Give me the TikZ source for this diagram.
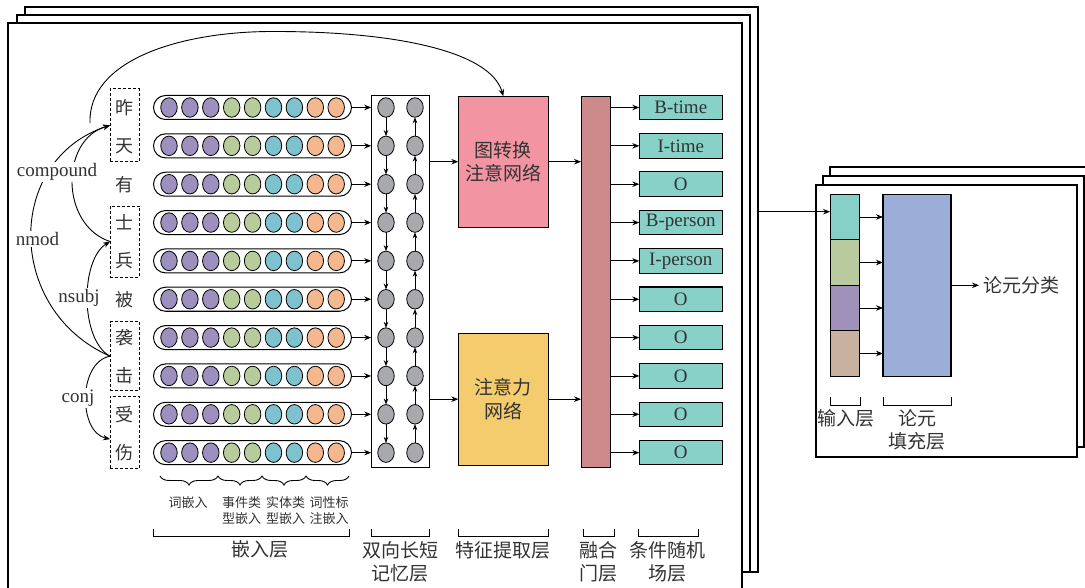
\documentclass[tikz,border=0pt]{standalone}
\usepackage{fontspec}
\setmainfont{Liberation Serif}
\newfontfamily\cjk{Noto Sans CJK SC}
\usetikzlibrary{arrows.meta,decorations.pathreplacing,shapes.geometric,calc}
\definecolor{txt}{HTML}{333333}
\definecolor{ePu}{HTML}{9D8FBE}
\definecolor{eGr}{HTML}{B7CB9B}
\definecolor{eCy}{HTML}{7DC2CE}
\definecolor{eOr}{HTML}{F4B78E}
\definecolor{gCir}{HTML}{A8A9AD}
\definecolor{pinkBox}{HTML}{F394A2}
\definecolor{yelBox}{HTML}{F4CC6E}
\definecolor{fuseBox}{HTML}{CC8A8A}
\definecolor{crfBox}{HTML}{87D1C9}
\definecolor{inTe}{HTML}{86D0C8}
\definecolor{inGr}{HTML}{B8CA9E}
\definecolor{inPu}{HTML}{9F91B9}
\definecolor{inTa}{HTML}{C9B19F}
\definecolor{fillBox}{HTML}{9BAED8}
\newcommand\fsz[2]{\fontsize{#1}{#2}\selectfont}
\begin{document}
\begin{tikzpicture}[x=1pt,y=-1pt,
  every node/.style={inner sep=0pt, outer sep=0pt, text=txt},
  arr/.style={-{Stealth[length=7pt,width=5.5pt]}, line width=0.9pt},
  sarr/.style={-{Stealth[length=6pt,width=4.5pt]}, line width=0.8pt},
  frame/.style={draw, fill=white, line width=1.1pt},
  embrow/.style={draw, line width=1pt, rounded corners=12pt, minimum width=198pt, minimum height=24pt},
  dot/.style={draw, ellipse, line width=0.8pt, minimum width=16.5pt, minimum height=19.5pt},
  word/.style={font=\cjk\fsz{18}{20}},
  dbox/.style={draw, line width=0.9pt, dash pattern=on 3pt off 2pt, minimum width=29.3pt},
  box/.style={draw, line width=1.1pt},
  crf/.style={box, fill=crfBox, minimum width=83pt, minimum height=24.5pt, font=\fsz{19}{20}},
  big/.style={font=\cjk\fsz{19}{23.5}, align=center},
  small/.style={font=\cjk\fsz{13}{16}, align=center},
  rel/.style={fill=white, inner sep=1.5pt, font=\fsz{19}{20}},
  brk/.style={line width=0.9pt},
  brc/.style={line width=0.9pt, decorate, decoration={brace, mirror, amplitude=9pt}}
]
\useasboundingbox (0,0) rectangle (1085,588);
% ---- stacked frames (main) ----
\draw[frame] (25,7) rectangle (758,572);
\draw[frame] (17,15) rectangle (750,572);
\draw[frame] (8,23) rectangle (742,600);
% ---- stacked frames (right) ----
\draw[frame] (830,167) rectangle (1095,438);
\draw[frame] (823,176) rectangle (1084,447);
\draw[frame] (816,185) rectangle (1077,457);

% ---- BiLSTM box ----
\node[box] (bl) at (400.2,281.8) [minimum width=58pt, minimum height=372pt] {};
% ---- rows ----
\foreach \w [count=\i from 0] in {昨,天,有,士,兵,被,袭,击,受,伤}{
  \pgfmathsetmacro\yy{107.5+38.35*\i}
  \node[word] (w\i) at (124.7,\yy) {\w};
  \node[embrow] (e\i) at (252.5,\yy) {};
  \foreach \c [count=\k from 0] in {ePu,ePu,ePu,eGr,eGr,eCy,eCy,eOr,eOr}{
    \node[dot, fill=\c] (d\i-\k) at (169+20.9*\k,\yy) {};
  }
  \node[dot, fill=gCir] (l\i) at (386,\yy) {};
  \node[dot, fill=gCir] (r\i) at (415,\yy) {};
  \draw[arr] (e\i.east) -- (e\i.east -| bl.west);
}
\foreach \i in {0,...,8}{
  \pgfmathtruncatemacro\j{\i+1}
  \draw[sarr] (l\i) -- (l\j);
  \draw[sarr] (r\j) -- (r\i);
}
% ---- dashed word groups ----
\node[dbox, minimum height=72.7pt] (b1) at (124.7,125.3) {};
\node[dbox, minimum height=71pt] (b2) at (124.7,241.5) {};
\node[dbox, minimum height=69pt] (b3) at (124.7,356.2) {};
\node[dbox, minimum height=72.3pt] (b4) at (124.7,432.1) {};
\coordinate (b4in) at ($(b4.west)+(0,7)$);
% ---- dependency arcs ----
\draw[arr] (b2.west) .. controls (60,225) and (60,140) .. (b1.west);
\draw[arr] (b3.west) .. controls (5,310) and (5,160) .. (b1.west);
\draw[arr] (b3.west) .. controls (80,340) and (80,260) .. (b2.west);
\draw[arr] (b3.west) .. controls (78,362) and (78,432) .. (b4in);
\node[rel] (lc) at (57,172) {compound};
\node[rel] (ln) at (37.5,239) {nmod};
\node[rel] (ls) at (79,298) {nsubj};
\node[rel] (lj) at (78,398) {conj};

% ---- feature extraction ----
\node[box, fill=pinkBox, minimum width=90pt, minimum height=131pt, big] (gat) at (503.3,161.7) {图转换\\注意网络};
\node[box, fill=yelBox, minimum width=90pt, minimum height=131.7pt, big] (att) at (503.3,399.2) {注意力\\网络};
\draw[arr] (bl.east |- gat) -- (gat.west);
\draw[arr] (bl.east |- att) -- (att.west);
\coordinate (tstart) at (90,123);
\draw[arr] (tstart) .. controls (88,60) and (180,32) .. (270,31.5) .. controls (390,31) and (490,50) .. (gat.north);
% ---- fusion ----
\node[box, fill=fuseBox, minimum width=29.3pt, minimum height=371pt] (fu) at (595.7,282) {};
\draw[arr] (gat.east) -- (gat.east -| fu.west);
\draw[arr] (att.east) -- (att.east -| fu.west);
% ---- CRF ----
\foreach \t [count=\i from 0] in {B-time,I-time,O,B-person,I-person,O,O,O,O,O}{
  \pgfmathsetmacro\yy{107.5+38.35*\i}
  \node[crf] (c\i) at (680.8,\yy) {\t};
  \draw[arr] (c\i.west -| fu.east) -- (c\i.west);
}
% ---- bottom braces / brackets ----
\draw[brc] (160,476) -- (218,476);
\draw[brc] (218,476) -- (262,476);
\draw[brc] (262,476) -- (306,476);
\draw[brc] (306,476) -- (349,476);
\node[small] (s1) at (188,503) {词嵌入};
\node[small] (s2) at (241.5,511) {事件类\\型嵌入};
\node[small] (s3) at (285.5,511) {实体类\\型嵌入};
\node[small] (s4) at (329,511) {词性标\\注嵌入};
\draw[brk] (153,529) -- (153,536.5) -- (349.3,536.5) -- (349.3,529);
\node[big] (L1) at (260,549.5) {嵌入层};
\draw[brk] (371,529) -- (371,536) -- (429.3,536) -- (429.3,529);
\node[big] (L2) at (400,561.7) {双向长短\\记忆层};
\draw[brk] (458,529) -- (458,536) -- (548.3,536) -- (548.3,529);
\node[big] (L3) at (503.3,550) {特征提取层};
\draw[brk] (583.3,529) -- (583.3,536) -- (614,536) -- (614,529);
\node[big] (L4) at (598.3,561.7) {融合\\门层};
\draw[brk] (638,529) -- (638,536) -- (698.3,536) -- (698.3,529);
\node[big] (L5) at (667,561.7) {条件随机\\场层};

% ---- right module ----
\node[box, fill=inTe, minimum width=29.3pt, minimum height=45.5pt] (in1) at (844.7,217) {};
\node[box, fill=inGr, minimum width=29.3pt, minimum height=45.5pt] (in2) at (844.7,262.5) {};
\node[box, fill=inPu, minimum width=29.3pt, minimum height=45.5pt] (in3) at (844.7,308) {};
\node[box, fill=inTa, minimum width=29.3pt, minimum height=45.5pt] (in4) at (844.7,353.5) {};
\node[box, fill=fillBox, minimum width=68pt, minimum height=182pt] (fb) at (917,285.3) {};
\foreach \i in {1,...,4}{
  \draw[arr] (in\i.east) -- (in\i.east -| fb.west);
}
\coordinate (src) at (758,211.7);
\draw[arr] (src) -- (src -| in1.west);
\node[big, anchor=west] (out) at (983,285.3) {论元分类};
\draw[arr, shorten >=4pt] (fb.east) -- (out.west);
\draw[brk] (830,397) -- (830,405) -- (860,405) -- (860,397);
\node[big] (R1) at (845.5,418) {输入层};
\draw[brk] (883,397) -- (883,405) -- (951,405) -- (951,397);
\node[big] (R2) at (917,430) {论元\\填充层};
\end{tikzpicture}
\end{document}
